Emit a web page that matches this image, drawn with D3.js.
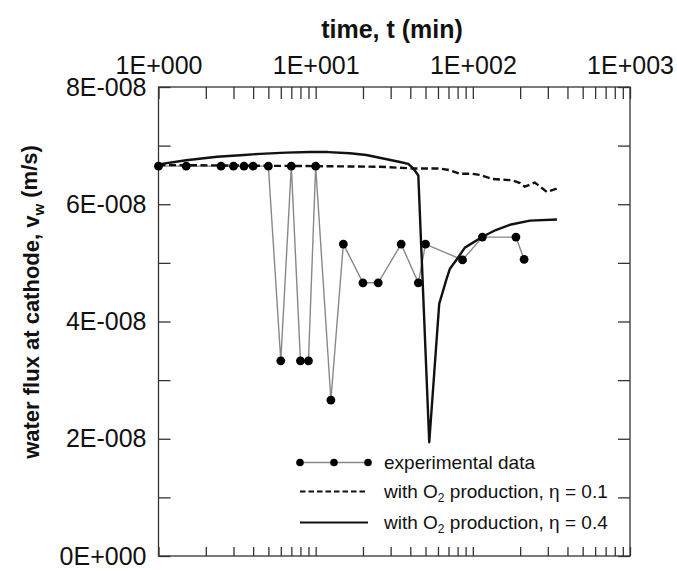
<!DOCTYPE html>
<html>
<head>
<meta charset="utf-8">
<script src="https://cdn.jsdelivr.net/npm/d3@7"></script>
<style>
  body { margin: 0; background: #fff; }
  text { font-family: "Liberation Sans", Arial, sans-serif; fill: #111; }
</style>
</head>
<body>
<div id="vis"></div>
<script>
// experimental data (time in min, flux in m/s)
let expTime = [1, 1.5, 2.5, 3, 3.5, 4, 5, 6, 7, 8, 9, 10, 12.5, 15, 20, 25, 35, 45, 50, 86, 115, 188, 212]
let expFlux = [6.65e-8, 6.65e-8, 6.65e-8, 6.65e-8, 6.65e-8, 6.65e-8, 6.65e-8, 3.33e-8, 6.65e-8, 3.33e-8, 3.33e-8, 6.65e-8,
  2.66e-8, 5.32e-8, 4.66e-8, 4.66e-8, 5.32e-8, 4.66e-8, 5.32e-8, 5.05e-8, 5.44e-8, 5.44e-8, 5.06e-8]

// model, eta = 0.1 (dashed)
let eta1Time = [1, 10, 25.5, 41.6, 53.3, 61.8, 71.5, 82.8, 98.7, 111, 134, 177, 200, 214, 248, 296, 343]
let eta1Flux = [6.67e-8, 6.65e-8, 6.64e-8, 6.61e-8, 6.61e-8, 6.61e-8, 6.58e-8, 6.52e-8, 6.52e-8, 6.50e-8, 6.43e-8,
  6.41e-8, 6.36e-8, 6.30e-8, 6.37e-8, 6.21e-8, 6.27e-8]

// model, eta = 0.4 (solid)
let eta4Time = [1, 1.5, 2.36, 3.5, 4.42, 6.5, 9.2, 12, 16.5, 21, 26.9, 34.4, 38.8, 41.8, 45, 52.8,
  61.1, 67.9, 71.5, 80, 89, 116, 140, 172, 231, 343]
let eta4Flux = [6.68e-8, 6.75e-8, 6.81e-8, 6.84e-8, 6.86e-8, 6.88e-8, 6.89e-8, 6.89e-8, 6.87e-8, 6.84e-8, 6.78e-8,
  6.72e-8, 6.69e-8, 6.61e-8, 6.49e-8, 1.94e-8,
  4.30e-8, 4.72e-8, 4.90e-8, 5.08e-8, 5.26e-8, 5.45e-8, 5.56e-8, 5.65e-8, 5.72e-8, 5.74e-8]

let decadeTicks = [1, 10, 100, 1000]
let yLabelTicks = [0, 2e-8, 4e-8, 6e-8, 8e-8]

let legendLabels = ['experimental data', 'with O|2| production, η = 0.1', 'with O|2| production, η = 0.4']

let width = 677, height = 571
let margin = {top: 87, right: 47, bottom: 15, left: 158.5}

let svg = d3.select('#vis')
  .append('svg')
  .attr('width', width)
  .attr('height', height)

let xScale = d3.scaleLog()
  .domain([1, 1000])
  .range([margin.left, width - margin.right])

let yScale = d3.scaleLinear()
  .domain([0, 8e-8])
  .range([height - margin.bottom, margin.top])

// 1E+001 style labels
function sciFmt(v) {
  if (v === 0) return '0E+000'
  let e = Math.floor(Math.log10(v) + 1e-9)
  let m = Math.round(v / Math.pow(10, e))
  return m + 'E' + (e < 0 ? '-' : '+') + String(Math.abs(e)).padStart(3, '0')
}

let logTicks = []
for (let d = 1; d < 1000; d *= 10) {
  for (let k = 1; k < 10; k++) logTicks.push(k * d)
}
logTicks.push(1000)

let yTicks = d3.range(0, 9).map(i => i * 1e-8)

let axisColor = '#333'

let topAxis = svg.append('g')
  .attr('transform', `translate(0,${margin.top})`)
  .call(d3.axisTop(xScale)
    .tickValues(logTicks)
    .tickSize(-12)
    .tickSizeOuter(0)
    .tickPadding(13)
    .tickFormat(d => decadeTicks.includes(d) ? sciFmt(d) : ''))

let bottomAxis = svg.append('g')
  .attr('transform', `translate(0,${height - margin.bottom})`)
  .call(d3.axisBottom(xScale)
    .tickValues(logTicks)
    .tickSize(-9)
    .tickSizeOuter(0)
    .tickFormat(''))

let leftAxis = svg.append('g')
  .attr('transform', `translate(${margin.left},0)`)
  .call(d3.axisLeft(yScale)
    .tickValues(yTicks)
    .tickSize(-12)
    .tickSizeOuter(0)
    .tickPadding(12)
    .tickFormat(d => yLabelTicks.some(t => Math.abs(t - d) < 1e-12) ? sciFmt(d) : ''))

let rightAxis = svg.append('g')
  .attr('transform', `translate(${width - margin.right},0)`)
  .call(d3.axisRight(yScale)
    .tickValues(yTicks)
    .tickSize(-12)
    .tickSizeOuter(0)
    .tickFormat(''))

svg.selectAll('.domain').remove()
svg.selectAll('.tick line').attr('stroke', axisColor).attr('stroke-width', 1.3)
svg.selectAll('.tick text')
  .attr('font-size', 25)
  .attr('font-family', '"Liberation Sans", Arial, sans-serif')
  .attr('fill', '#111')

svg.append('rect')
  .attr('x', xScale(1))
  .attr('y', yScale(8e-8))
  .attr('width', xScale(1000) - xScale(1))
  .attr('height', yScale(0) - yScale(8e-8))
  .attr('fill', 'none')
  .attr('stroke', axisColor)
  .attr('stroke-width', 1.3)

// titles
svg.append('text')
  .attr('x', 392)
  .attr('y', 38)
  .attr('text-anchor', 'middle')
  .attr('font-size', 25)
  .attr('font-weight', 'bold')
  .text('time, t (min)')

let yTitle = svg.append('text')
  .attr('transform', 'translate(39,302) rotate(-90)')
  .attr('text-anchor', 'middle')
  .attr('font-size', 22)
  .attr('font-weight', 'bold')
yTitle.append('tspan').text('water flux at cathode, v')
yTitle.append('tspan').attr('font-size', 15).attr('dy', '0.3em').text('w')
yTitle.append('tspan').attr('dy', '-0.3em').text(' (m/s)')

// lines
let line = d3.line()
  .x(d => xScale(d[0]))
  .y(d => yScale(d[1]))

let expData = expTime.map((t, i) => [t, expFlux[i]])
let eta1Data = eta1Time.map((t, i) => [t, eta1Flux[i]])
let eta4Data = eta4Time.map((t, i) => [t, eta4Flux[i]])

svg.append('path')
  .attr('d', line(expData))
  .attr('fill', 'none')
  .attr('stroke', '#888')
  .attr('stroke-width', 1.4)

svg.append('path')
  .attr('d', line(eta1Data))
  .attr('fill', 'none')
  .attr('stroke', '#111')
  .attr('stroke-width', 2.4)
  .attr('stroke-dasharray', '7,3.5')

svg.append('path')
  .attr('d', line(eta4Data))
  .attr('fill', 'none')
  .attr('stroke', '#111')
  .attr('stroke-width', 2.4)
  .attr('stroke-linejoin', 'round')

svg.selectAll('.dot')
  .data(expData)
  .join('circle')
  .attr('class', 'dot')
  .attr('cx', d => xScale(d[0]))
  .attr('cy', d => yScale(d[1]))
  .attr('r', 4.4)
  .attr('fill', '#000')

// legend
let legend = svg.append('g')
let lx0 = 300, lx1 = 368, ly = [462.5, 491.5, 522.5]

legend.append('line')
  .attr('x1', lx0).attr('x2', lx1).attr('y1', ly[0]).attr('y2', ly[0])
  .attr('stroke', '#888').attr('stroke-width', 1.4)
legend.selectAll('.ldot')
  .data([lx0, (lx0 + lx1) / 2, lx1])
  .join('circle')
  .attr('class', 'ldot')
  .attr('cx', d => d).attr('cy', ly[0]).attr('r', 3.8).attr('fill', '#000')
legend.append('line')
  .attr('x1', lx0).attr('x2', lx1).attr('y1', ly[1]).attr('y2', ly[1])
  .attr('stroke', '#111').attr('stroke-width', 1.8).attr('stroke-dasharray', '5.5,3')
legend.append('line')
  .attr('x1', lx0).attr('x2', lx1).attr('y1', ly[2]).attr('y2', ly[2])
  .attr('stroke', '#111').attr('stroke-width', 2.2)

legendLabels.forEach((lab, i) => {
  let t = legend.append('text')
    .attr('x', 384)
    .attr('y', ly[i] + 6.5)
    .attr('font-size', 19)
    .attr('fill', '#222')
  let parts = lab.split('|')
  if (parts.length === 1) {
    t.text(lab)
  } else {
    t.append('tspan').text(parts[0])
    t.append('tspan').attr('font-size', 12).attr('dy', '0.35em').text(parts[1])
    t.append('tspan').attr('dy', '-0.23em').text(parts[2])
  }
})
</script>
</body>
</html>
